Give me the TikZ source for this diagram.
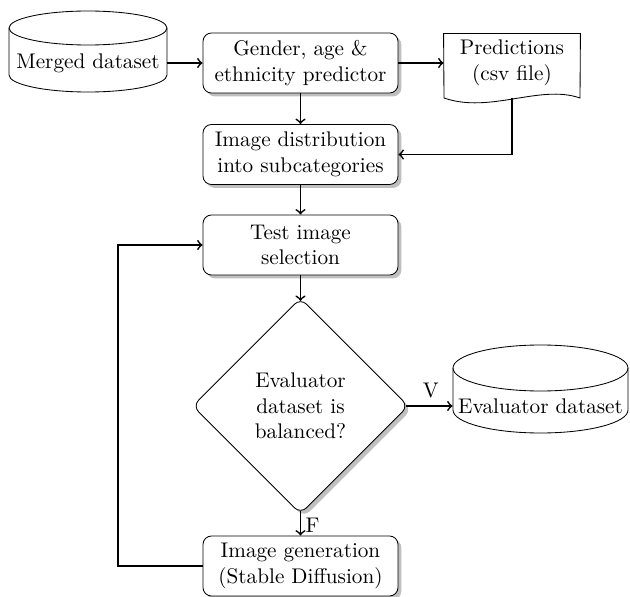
\documentclass[tikz,border=0pt]{standalone}
\usetikzlibrary{shapes.geometric,shadows,calc}
\newcommand{\px}{0.472pt}
\begin{document}
\begin{tikzpicture}[x=\px,y=\px,
  box/.style={draw,rounded corners,fill=white,align=center,
    minimum width=195*\px,minimum height=60*\px,inner sep=2pt,
    drop shadow={shadow xshift=1.6pt,shadow yshift=-1.6pt,fill=black!25,opacity=1}},
  decision/.style={draw,diamond,aspect=1,rounded corners,fill=white,align=center,
    minimum width=216*\px,minimum height=216*\px,inner sep=0pt,
    drop shadow={shadow xshift=1.6pt,shadow yshift=-1.6pt,fill=black!25,opacity=1}},
  plain/.style={align=center,inner sep=0pt},
  conn/.style={thick,->}
]
\useasboundingbox (0,0) rectangle (630,-597);

% Merged dataset cylinder
\draw (9,-28) -- (9,-75) arc[start angle=180,end angle=360,x radius=79*\px,y radius=17*\px] -- (167,-28);
\draw (88,-28) ellipse [x radius=79*\px,y radius=17*\px];
\node[plain,minimum width=158*\px] (merged) at (88,-63) {Merged dataset};

% Boxes
\node[box] (pred) at (300.5,-63) {Gender, age \&\\ethnicity predictor};
\node[box] (dist) at (300.5,-154.5) {Image distribution\\into subcategories};
\node[box] (test) at (300.5,-245) {Test image\\selection};
\node[decision] (bal) at (300.5,-406) {Evaluator\\dataset is\\balanced?};
\node[box] (gen) at (300.5,-566) {Image generation\\(Stable Diffusion)};

% Document
\node[plain,minimum width=136*\px,minimum height=58*\px] (doc) at (512,-63) {Predictions\\(csv file)};
\draw (doc.north west) -- (doc.north east) -- (580,-98)
  .. controls (540,-84) and (490,-114) .. (444,-98) -- cycle;
\coordinate (docbot) at (512,-98);

% Evaluator dataset cylinder
\draw (453,-368) -- (453,-410) arc[start angle=180,end angle=360,x radius=87.5*\px,y radius=23*\px] -- (628,-368);
\draw (540.5,-368) ellipse [x radius=87.5*\px,y radius=23*\px];
\node[plain,minimum width=175*\px] (eval) at (540.5,-406) {Evaluator dataset};

% Connectors
\draw[conn] (merged.east) -- (pred.west);
\draw[conn] (pred.east) -- (doc.west);
\draw[conn] (pred.south) -- (dist.north);
\draw[conn] (docbot) |- (dist.east);
\draw[conn] (dist.south) -- (test.north);
\draw[conn,shorten >=-1.6pt] (test.south) -- (bal.north);
\draw[conn,shorten <=-1.6pt] (bal.east) -- node[above] {V} (eval.west);
\draw[conn,shorten <=-1.6pt] (bal.south) -- node[right,inner sep=2pt] {F} (gen.north);
\draw[conn] (gen.west) -- (118,-566) |- (test.west);
\end{tikzpicture}
\end{document}
